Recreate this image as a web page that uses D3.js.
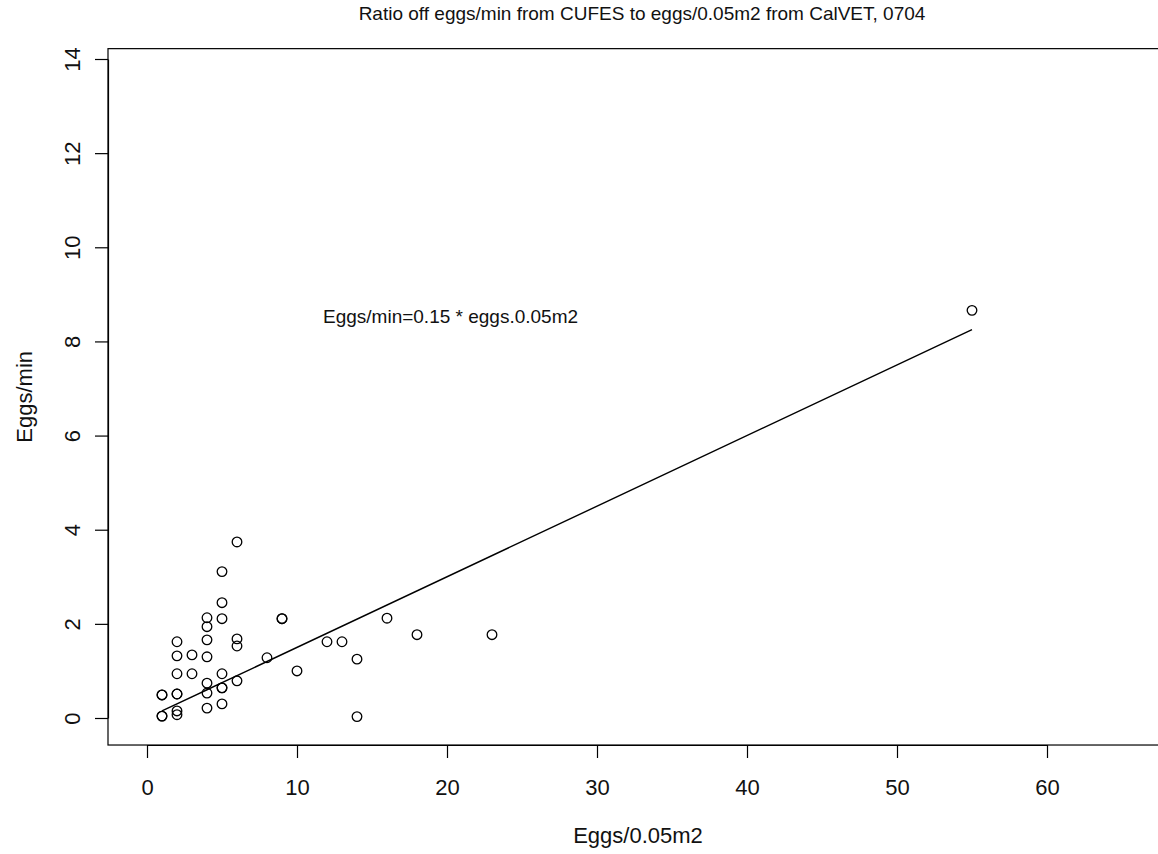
<!DOCTYPE html>
<html>
<head>
<meta charset="utf-8">
<script src="https://cdn.jsdelivr.net/npm/d3@7"></script>
<style>
  html, body { margin: 0; padding: 0; background: #fff; }
  svg { display: block; }
  text { font-family: "Liberation Sans", Arial, sans-serif; fill: #111; }
</style>
</head>
<body>
<script>
// ---- data ----
const eggsPerArea = [55, 6, 6, 6, 6, 5, 5, 5, 5, 5, 5, 5, 4, 4, 4, 4, 4, 4, 4, 3, 3,
  2, 2, 2, 2, 2, 2, 2, 1, 1, 1, 1, 8, 9, 9, 10, 12, 13, 14, 14, 16, 18, 23];
const eggsPerMin = [8.66, 3.74, 1.68, 1.53, 0.79, 3.11, 2.45, 2.11, 0.94, 0.64, 0.64, 0.30,
  2.13, 1.94, 1.66, 1.30, 0.74, 0.53, 0.21, 1.34, 0.94,
  1.62, 1.32, 0.94, 0.51, 0.51, 0.15, 0.07, 0.49, 0.49, 0.04, 0.04,
  1.28, 2.11, 2.11, 1.00, 1.62, 1.62, 1.25, 0.03, 2.12, 1.77, 1.77];
const slope = 0.15;
const xTicks = [0, 10, 20, 30, 40, 50, 60];
const yTicks = [0, 2, 4, 6, 8, 10, 12, 14];
const titleText = "Ratio off eggs/min from CUFES to eggs/0.05m2 from CalVET, 0704";
const xTitle = "Eggs/0.05m2";
const yTitle = "Eggs/min";
const annotation = "Eggs/min=0.15 * eggs.0.05m2";

// ---- layout ----
const W = 1158, H = 854;
const x = d3.scaleLinear().domain([0, 60]).range([147, 1047]);
const y = d3.scaleLinear().domain([0, 14]).range([718, 59]);
const boxL = x(-2.6), boxR = x(67.6), boxT = y(14.22), boxB = y(-0.574);

const svg = d3.select("body").append("svg").attr("width", W).attr("height", H);

// plot box
svg.append("rect")
  .attr("x", boxL).attr("y", boxT)
  .attr("width", boxR - boxL).attr("height", boxB - boxT)
  .attr("fill", "none").attr("stroke", "#000").attr("stroke-width", 1.2);

// x axis
const gx = svg.append("g").attr("transform", `translate(0,${boxB})`)
  .call(d3.axisBottom(x).tickValues(xTicks).tickSize(13).tickSizeOuter(0).tickFormat(d3.format("d")));
gx.select(".domain").attr("stroke", "#000").attr("stroke-width", 1.2);
gx.selectAll(".tick line").attr("stroke", "#000").attr("stroke-width", 1.2);
gx.selectAll(".tick text").attr("y", 50).attr("dy", 0)
  .style("font-size", "22px").style("font-family", "Liberation Sans, Arial, sans-serif").attr("fill", "#111");

// y axis
const gy = svg.append("g").attr("transform", `translate(${boxL},0)`)
  .call(d3.axisLeft(y).tickValues(yTicks).tickSize(13).tickSizeOuter(0).tickFormat(d3.format("d")));
gy.select(".domain").attr("stroke", "#000").attr("stroke-width", 1.2);
gy.selectAll(".tick line").attr("stroke", "#000").attr("stroke-width", 1.2);
gy.selectAll(".tick text")
  .attr("x", null).attr("dy", null)
  .attr("text-anchor", "middle")
  .attr("transform", "translate(-28,0) rotate(-90)")
  .style("font-size", "22px").style("font-family", "Liberation Sans, Arial, sans-serif").attr("fill", "#111");

// regression line (fitted values, drawn in data order)
const line = d3.line().x(d => x(d)).y(d => y(slope * d));
svg.append("path")
  .attr("d", line(eggsPerArea))
  .attr("fill", "none").attr("stroke", "#000").attr("stroke-width", 1.4);

// points
svg.append("g").selectAll("circle")
  .data(eggsPerArea.map((v, i) => [v, eggsPerMin[i]]))
  .join("circle")
  .attr("cx", d => x(d[0])).attr("cy", d => y(d[1]))
  .attr("r", 4.8)
  .attr("fill", "none").attr("stroke", "#000").attr("stroke-width", 1.3);

// title
svg.append("text")
  .attr("x", 642).attr("y", 20)
  .attr("text-anchor", "middle")
  .style("font-size", "19px")
  .text(titleText);

// annotation
svg.append("text")
  .attr("x", 323).attr("y", 323)
  .style("font-size", "19px")
  .text(annotation);

// axis titles
svg.append("text")
  .attr("x", 638).attr("y", 843)
  .attr("text-anchor", "middle")
  .style("font-size", "22px")
  .text(xTitle);

svg.append("text")
  .attr("transform", `translate(32,${(boxT + boxB) / 2}) rotate(-90)`)
  .attr("text-anchor", "middle")
  .style("font-size", "22px")
  .text(yTitle);
</script>
</body>
</html>
